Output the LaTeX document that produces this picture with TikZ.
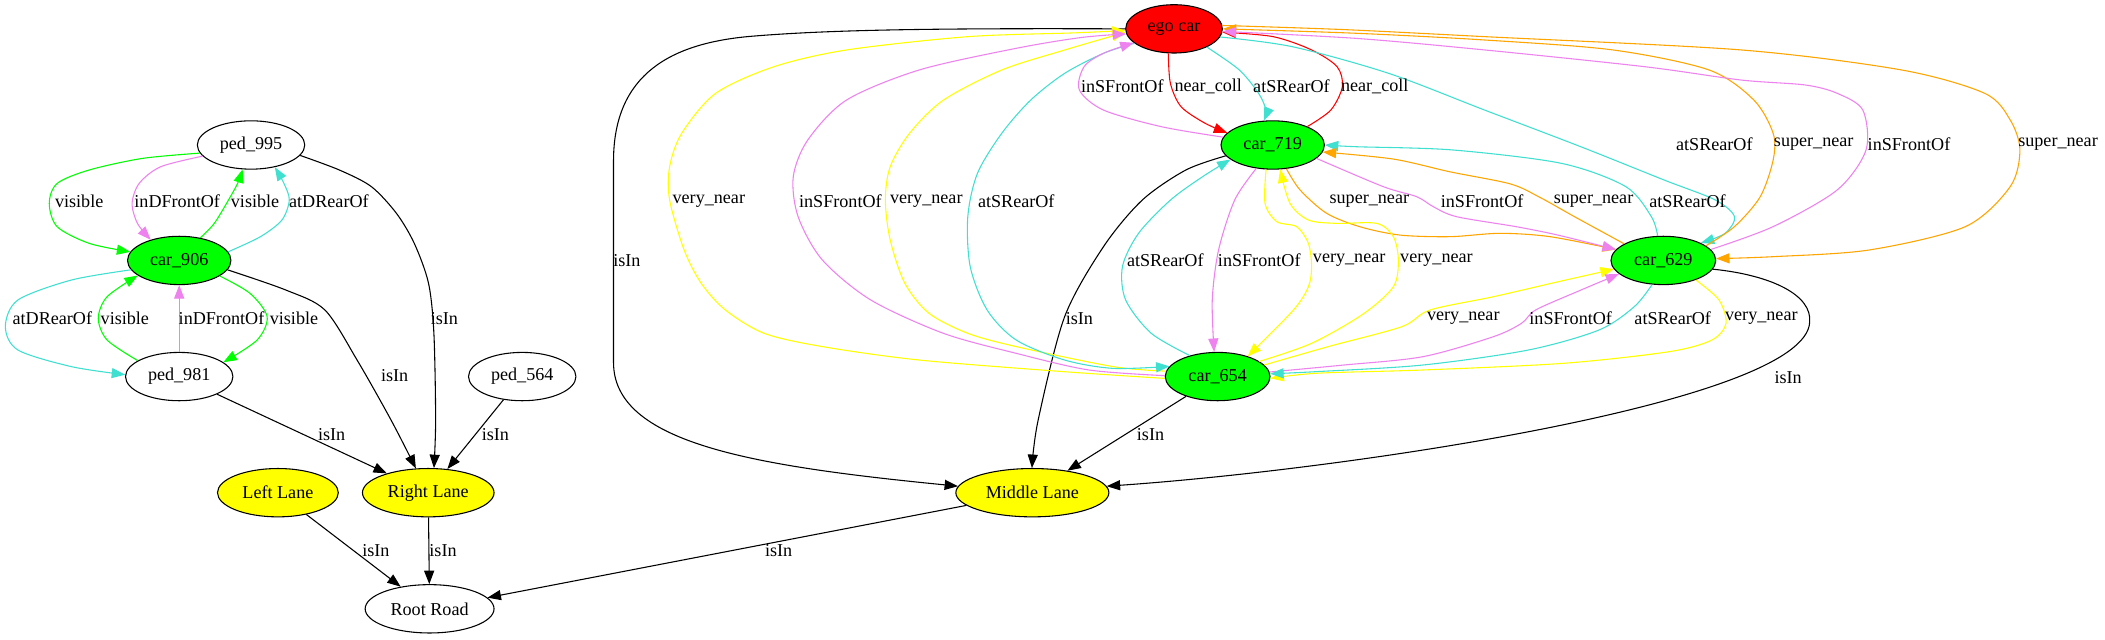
\documentclass[tikz,border=0pt]{standalone}
\usepackage{fontspec}
\setmainfont{Liberation Serif}
\usetikzlibrary{shapes.geometric,arrows.meta}
\definecolor{gvgreen}{RGB}{0,255,0}
\definecolor{gvred}{RGB}{255,0,0}
\definecolor{gvyellow}{RGB}{255,255,0}
\definecolor{gvturq}{RGB}{64,224,208}
\definecolor{gvviolet}{RGB}{238,130,238}
\definecolor{gvorange}{RGB}{255,165,0}
\newcommand\gvfont{\fontsize{13.5}{16}\selectfont}
\begin{document}
\begin{tikzpicture}[x=1pt,y=-1pt,
  nd/.style={ellipse, draw=black, line width=0.8pt, minimum height=36pt, inner sep=0pt, font=\gvfont},
  e/.style={line width=0.8pt, -{Triangle[length=10pt,width=7.5pt]}},
  lbl/.style={font=\gvfont, inner sep=0pt}]
\useasboundingbox (0,0) rectangle (1568,476);
\fill[white] (0,0) rectangle (1568,476);
% nodes
\node[nd, fill=gvred, minimum width=72pt] (ego) at (874.5,21.5) {ego car};
\node[nd, fill=gvgreen, minimum width=77pt] (c719) at (948,108) {car\_719};
\node[nd, fill=gvgreen, minimum width=78pt] (c629) at (1239,194) {car\_629};
\node[nd, fill=gvgreen, minimum width=78pt] (c654) at (907,280.5) {car\_654};
\node[nd, fill=gvyellow, minimum width=114pt] (ml) at (769,367) {Middle Lane};
\node[nd, fill=gvyellow, minimum width=98pt] (rl) at (319,367) {Right Lane};
\node[nd, fill=gvyellow, minimum width=90pt] (ll) at (207,367) {Left Lane};
\node[nd, minimum width=96pt] (rr) at (320,453.5) {Root Road};
\node[nd, minimum width=80pt] (p995) at (187,108) {ped\_995};
\node[nd, fill=gvgreen, minimum width=77pt] (c906) at (133.5,194) {car\_906};
\node[nd, minimum width=80pt] (p981) at (133.5,280.5) {ped\_981};
\node[nd, minimum width=80pt] (p564) at (389,280.5) {ped\_564};

% ---- left cluster
\draw[e,gvgreen] plot[smooth] coordinates {(p995.189) (106,118) (66.5,126.6) (42.6,136.6) (36.7,151.5) (42.6,168.9) (66.5,181.3) (c906.170)};
\draw[e,gvviolet] plot[smooth] coordinates {(p995.193) (119.7,124.2) (103.7,136.6) (98.4,151.5) (102.4,166.4) (c906.144)};
\draw[e,gvgreen] plot[smooth] coordinates {(c906.47) (159.6,166.4) (170.2,149) (177,136.6) (p995.251)};
\draw[e,gvturq] plot[smooth] coordinates {(c906.10) (194,176.3) (210,163.9) (215.5,149) (211.5,136.6) (p995.317)};
\draw[e,gvturq] plot[smooth] coordinates {(c906.191) (53.2,208.6) (13.3,223.5) (4,243.3) (13.3,260.7) (53.2,273.1) (p981.178)};
\draw[e,gvgreen] plot[smooth] coordinates {(p981.159) (79.8,253.3) (73.2,237.1) (79.8,221) (c906.200)};
\draw[e,gvviolet] (p981) -- (c906);
\draw[e,gvgreen] plot[smooth] coordinates {(c906.339) (186.2,218.5) (199,235.9) (191.5,253.3) (p981.18)};
\draw[e] plot[smooth] coordinates {(c906.349) (212.8,216) (242,230.9) (266,268.2) (291.3,312.9) (rl.117)};
\draw[e] plot[smooth] coordinates {(p995.348) (252.7,126.6) (276.6,139) (295.3,158.9) (308.6,181.3) (319.2,211) (323.2,248.3) (324.5,312.9) (rl.77)};
\draw[e] (p564) -- (rl);
\draw[e] (p981) -- (rl);
\draw[e] (ll) -- (rr);
\draw[e] (rl) -- (rr);
\draw[e] (ml) -- (rr);

% ---- right cluster, isIn
\draw[e] (ego.180) .. controls (700,21) and (620,22) .. (560,27) .. controls (500,32) and (457,55) .. (457,120) -- (457,270) .. controls (457,330) and (560,347) .. (ml.175);
\draw[e] plot[smooth] coordinates {(c719.193) (883.4,126.6) (850.9,149) (822,183.7) (793,236) (773.3,312.9) (ml.91)};
\draw[e] (c654) -- (ml);
\draw[e] (c629.350) .. controls (1320,205) and (1350,220) .. (1348,240) .. controls (1345,300) and (1000,350) .. (ml.5);

% ego <-> car_719
\draw[e,gvred] plot[smooth] coordinates {(ego.257) (871.8,62) (879.8,79.5) (897.8,91.9) (c719.165)};
\draw[e,gvturq] plot[smooth] coordinates {(ego.331) (923,52) (937.5,69.5) (943,82) (c719.110)};
\draw[e,gvred] plot[smooth] coordinates {(c719.28) (991.3,82) (999.9,64.6) (996,49.7) (977,37.2) (948.3,27.3) (ego.356)};

% ego <-> car_654
\draw[e,gvyellow] plot[smooth] coordinates {(c654.182) (793,276.9) (684.8,268.2) (612.6,258.2) (569.2,248.3) (540.3,230.9) (522.3,211) (509.6,186.2) (498.8,149) (498.8,124.2) (507.8,99.3) (533.1,69.5) (576.4,49.7) (630.6,37.2) (720.9,27.3) (800,24.5) (ego.182)};
\draw[e,gvyellow] plot[smooth] coordinates {(c654.174) (829.2,273.1) (757,258.2) (720.9,248.3) (692,233.4) (674,211) (663.1,178.8) (659.5,149) (663.1,124.2) (677.5,99.3) (702.8,74.5) (746.2,52.1) (793.1,37.2) (ego.184)};
\draw[e,gvviolet] plot[smooth] coordinates {(c654.179) (811.2,275.6) (757,263.2) (702.8,248.3) (648.7,223.5) (612.6,193.7) (594.5,161.4) (590.9,131.6) (601.7,104.3) (630.6,74.5) (684.8,52.1) (757,36) (805,28) (ego.186)};
\draw[e,gvturq] plot[smooth] coordinates {(ego.200) (822,39.7) (793.1,54.6) (767.8,74.5) (746.2,99.3) (728.1,129.1) (720.9,161.4) (722.7,198.6) (735.3,230.9) (757,253.3) (793.1,268.2) (829.2,274.4) (c654.168)};
\draw[e,gvviolet] plot[smooth] coordinates {(c719.171) (865.3,94.4) (822,82) (804,67) (807.5,49.7) (822,39.7) (ego.199)};

% ego <-> car_629
\draw[e,gvturq] plot[smooth] coordinates {(ego.350) (962.7,34.8) (1034.3,54.6) (1105.9,82) (1177.5,109.3) (1239.6,134.1) (1277.8,149) (1292,161.4) (1285,173.8) (c629.25)};
\draw[e,gvorange] plot[smooth] coordinates {(c629.19) (1292,168.8) (1311.2,146.5) (1320.8,119.2) (1320.8,99.3) (1306.4,74.5) (1273,52.1) (1201.4,37.2) (1105.9,29.8) (1010.4,24.8) (ego.0)};
\draw[e,gvorange] plot[smooth] coordinates {(ego.4) (1000,22) (1105.9,27.3) (1296.9,37.2) (1416.3,52.1) (1478.3,69.5) (1497.4,89.4) (1504.6,111.7) (1497.4,139) (1464,168.8) (1392.4,186.2) (1320.8,191.2) (c629.2)};
\draw[e,gvviolet] plot[smooth] coordinates {(c629.13) (1320.8,168.8) (1368.5,141.5) (1390,111.7) (1387.6,82) (1368.5,69.5) (1344.7,63.3) (1296.9,59.6) (1225.3,49.7) (1105.9,37.2) (1010.4,28.6) (ego.357)};

% car_719 <-> car_629
\draw[e,gvturq] plot[smooth] coordinates {(c629.103) (1230.1,161.4) (1211,139) (1163.2,121.7) (1082,111.7) (1010.4,109.3) (c719.0)};
\draw[e,gvorange] plot[smooth] coordinates {(c629.157) (1172.8,161.4) (1147,147) (1125,137) (1080.1,128) (1037.9,118.5) (c719.352)};
\draw[e,gvorange] plot[smooth] coordinates {(c719.300) (968.4,141.5) (988.2,158.9) (1013,168.9) (1042.8,175.1) (1080,176.3) (1117.3,173.8) (1154.6,176.3) (c629.167)};
\draw[e,gvviolet] plot[smooth] coordinates {(c719.343) (1030.3,139) (1055.3,146.5) (1067.7,154) (1085,161.4) (1129.7,168.9) (1160,175) (c629.167)};

% car_719 <-> car_654
\draw[e,gvturq] plot[smooth] coordinates {(c654.143) (857.6,248.3) (838.5,223.5) (836.1,198.6) (848.1,173.8) (871.9,149) (895.8,131.6) (c719.199)};
\draw[e,gvviolet] plot[smooth] coordinates {(c719.235) (919.7,149) (907.7,186.2) (903,223.5) (c654.98)};
\draw[e,gvyellow] plot[smooth] coordinates {(c719.255) (942.3,151.5) (951,165.1) (965.9,168.9) (974.6,181.3) (977,198.7) (974.6,213.6) (963.4,231) (c654.34)};
\draw[e,gvyellow] plot[smooth] coordinates {(c654.20) (977,255.7) (1015.2,234) (1037.9,213.6) (1041.6,193.7) (1037.9,176.3) (1025.5,166.4) (995.7,166.4) (974.6,163.9) (960.9,151.5) (c719.287)};

% car_629 <-> car_654
\draw[e,gvyellow] plot[smooth] coordinates {(c654.14) (990,258) (1044.2,243.3) (1065.2,230.9) (1112.4,221) (1160,210) (c629.190)};
\draw[e,gvviolet] plot[smooth] coordinates {(c654.5) (1000,272) (1059.9,265.7) (1112.4,250.8) (1133.4,240.8) (1143.9,230.9) (1175.4,217) (c629.197)};
\draw[e,gvyellow] plot[smooth] coordinates {(c629.329) (1280.4,223.4) (1285.7,240.8) (1275.2,253.2) (1243.6,261.9) (1164.9,270.6) (1059.9,275.6) (981.2,278) (c654.358)};
\draw[e,gvturq] plot[smooth] coordinates {(c629.245) (1217.4,228.4) (1191.1,245.8) (1138.6,260.7) (1059.9,271.9) (981.2,276.8) (c654.3)};

% ---- labels, left
\node[lbl] (t1) at (59,150) {visible};
\node[lbl] (t2) at (132,150) {inDFrontOf};
\node[lbl] (t3) at (190,150) {visible};
\node[lbl] (t4) at (245,150) {atDRearOf};
\node[lbl] (t5) at (39,237) {atDRearOf};
\node[lbl] (t6) at (93,237) {visible};
\node[lbl] (t7) at (165,237) {inDFrontOf};
\node[lbl] (t8) at (219,237) {visible};
\node[lbl] (t9) at (331,237) {isIn};
\node[lbl] (t10) at (294,280) {isIn};
\node[lbl] (t11) at (247,324) {isIn};
\node[lbl] (t12) at (369,324) {isIn};
\node[lbl] (t13) at (280,410) {isIn};
\node[lbl] (t14) at (330,410) {isIn};
\node[lbl] (t15) at (580,410) {isIn};
% ---- labels, right
\node[lbl] (u1) at (467,194) {isIn};
\node[lbl] (u2) at (804,237) {isIn};
\node[lbl] (u3) at (857,323.5) {isIn};
\node[lbl] (u4) at (1332,281) {isIn};
\node[lbl] (u5) at (836,64) {inSFrontOf};
\node[lbl] (u6) at (900,64) {near\_coll};
\node[lbl] (u7) at (962,64) {atSRearOf};
\node[lbl] (u8) at (1024,64) {near\_coll};
\node[lbl] (u9) at (528,150) {very\_near};
\node[lbl] (u10) at (626,150) {inSFrontOf};
\node[lbl] (u11) at (690,150) {very\_near};
\node[lbl] (u12) at (757,150) {atSRearOf};
\node[lbl] (u13) at (1277,107.5) {atSRearOf};
\node[lbl] (u14) at (1351,107.5) {super\_near};
\node[lbl] (u15) at (1422,107.5) {inSFrontOf};
\node[lbl] (u16) at (1533,107.5) {super\_near};
\node[lbl] (u17) at (1020,150) {super\_near};
\node[lbl] (u18) at (1104,150) {inSFrontOf};
\node[lbl] (u19) at (1187,150) {super\_near};
\node[lbl] (u20) at (1257,150) {atSRearOf};
\node[lbl] (u21) at (868,194) {atSRearOf};
\node[lbl] (u22) at (938,194) {inSFrontOf};
\node[lbl] (u23) at (1005,194) {very\_near};
\node[lbl] (u24) at (1070,194) {very\_near};
\node[lbl] (u25) at (1090,237) {very\_near};
\node[lbl] (u26) at (1170,237) {inSFrontOf};
\node[lbl] (u27) at (1246,237) {atSRearOf};
\node[lbl] (u28) at (1312,237) {very\_near};
\end{tikzpicture}
\end{document}
